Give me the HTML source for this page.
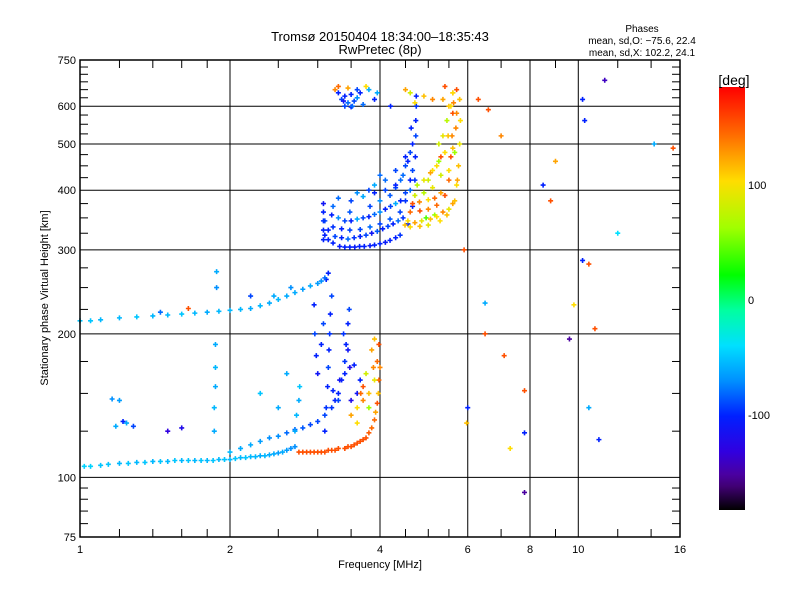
<!DOCTYPE html>
<html><head><meta charset="utf-8"><style>
body{margin:0;background:#fff;}
svg text{font-family:"Liberation Sans",sans-serif;fill:#000;}
</style></head><body>
<svg id="chart" width="800" height="600" viewBox="0 0 800 600">
<defs><linearGradient id="cbgrad" x1="0" y1="1" x2="0" y2="0"></linearGradient></defs>
<rect width="800" height="600" fill="#fff"/>
<g id="grid"></g>
<g id="marks"></g>
<g id="axes"></g>
<text x="380" y="41" font-size="13" text-anchor="middle">Tromsø 20150404 18:34:00–18:35:43</text>
<text x="380" y="54" font-size="13" text-anchor="middle">RwPretec (8p)</text>
<text x="642" y="32" font-size="10" text-anchor="middle">Phases</text>
<text x="642" y="44" font-size="10" text-anchor="middle">mean, sd,O: −75.6, 22.4</text>
<text x="642" y="56" font-size="10" text-anchor="middle">mean, sd,X: 102.2, 24.1</text>
<text x="380" y="568" font-size="11" text-anchor="middle">Frequency [MHz]</text>
<text transform="translate(48,298) rotate(-90)" font-size="11" text-anchor="middle">Stationary phase Virtual Height [km]</text>
<g id="cbar"></g>
<text x="734" y="85" font-size="14" text-anchor="middle">[deg]</text>
</svg>
<script>
// ---- data: each trace = frequency (MHz), virtual height (km), phase (deg)
const eFlatFreq=[1.02,1.05,1.1,1.14,1.2,1.25,1.3,1.35,1.4,1.45,1.5,1.55,1.6,1.65,1.7,1.75,1.8,1.85,1.9,1.95,2.0,2.05,2.1,2.15,2.2,2.25,2.3,2.35,2.4,2.45,2.5,2.55,2.6,2.65,2.7];
const eFlatHeight=[105.5,105.5,106,106.5,107,107,107.5,107.5,108,108,108,108.5,108.5,108.5,108.5,108.5,108.5,108.5,109,109,109,109.5,110,110,110.5,110.5,111,111,111.5,112,112.5,113,114,115,116];
const eFlatPhase=[-45,-45,-50,-50,-55,-50,-55,-50,-55,-50,-55,-50,-55,-50,-55,-50,-55,-50,-55,-50,-55,-50,-55,-50,-55,-55,-60,-55,-60,-60,-65,-60,-65,-70,-70];
const xLowFreq=[2.75,2.8,2.85,2.9,2.95,3.0,3.05,3.1,3.15,3.2,3.25,3.3,3.4,3.45,3.5,3.55,3.6,3.65,3.7,3.75,3.8,3.85,3.9,3.92,3.95,3.97,3.98,4.0];
const xLowHeight=[113,113,113,113,113,113,113,113,114,114,114,115,115,116,116,117,118,119,120,121,124,127,132,137,143,150,160,170];
const xLowPhase=[150,150,150,150,150,150,150,150,150,150,150,150,150,150,150,150,150,150,150,150,145,140,140,120,150,110,140,130];
const oRiseFreq=[2.0,2.1,2.2,2.3,2.4,2.5,2.6,2.7,2.8,2.9,3.0,3.1,3.2,3.25,3.3,3.35,3.4,3.42,3.45,3.47];
const oRiseHeight=[113,115,117,119,121,122,124,126,127,129,131,135,140,145,150,160,175,190,210,225];
const oRisePhase=[-55,-60,-60,-65,-70,-70,-80,-80,-85,-90,-90,-90,-95,-100,-100,-100,-95,-100,-100,-90];
const oVertFreq=[3.1,3.12,3.14,3.15,3.16,3.17,3.18,3.2,3.0,2.98,2.96,2.95,3.22,3.32,3.4,3.48,3.55,3.3,3.45,3.05,3.08,3.12,3.6,3.65,3.5,3.38];
const oVertHeight=[125,140,155,170,185,200,220,240,165,180,200,230,152,160,165,170,172,145,185,190,210,260,150,160,145,200];
const oVertPhase=[-100,-95,-100,-90,-100,-95,-100,-90,-110,-100,-90,-100,-100,-110,-100,-120,-100,-90,-110,-100,-90,-100,-110,-100,-120,-95];
const spurFreq=[2.7,2.72,2.75,2.76,1.86,1.86,1.87,1.87,1.87,1.88,1.88,1.16,1.2,1.24,1.28,1.18,1.22,1.5,1.6,2.3,2.5,2.6];
const spurHeight=[125,135,145,155,125,140,155,170,190,250,270,146,145,130,128,128,131,125,127,150,140,165];
const spurPhase=[-60,-55,-60,-50,-60,-55,-60,-55,-60,-70,-60,-70,-65,-60,-90,-60,-100,-130,-120,-50,-60,-60];
const yelLowFreq=[3.5,3.6,3.7,3.8,3.9,3.95,3.6,3.7,3.85,3.75,3.9,3.98,3.8,3.88,3.66];
const yelLowHeight=[135,140,145,150,160,175,130,155,185,165,195,190,140,170,150];
const yelLowPhase=[120,100,130,110,90,140,100,150,120,80,110,150,60,130,140];
const fLayerFreq=[1.0,1.05,1.1,1.2,1.3,1.4,1.5,1.6,1.7,1.8,1.9,2.0,2.1,2.2,2.3,2.4,2.5,2.6,2.7,2.8,2.9,3.0,3.05,3.1,3.15,1.45,1.65,2.45,2.65,2.2];
const fLayerHeight=[213,213,214,216,217,218,219,220,221,222,223,224,225,226,229,232,236,240,244,248,252,255,258,262,268,222,226,240,250,240];
const fLayerPhase=[-50,-50,-55,-55,-50,-55,-55,-50,-55,-60,-55,-55,-55,-60,-55,-60,-55,-60,-60,-65,-60,-65,-70,-80,-100,-80,150,-60,-70,-90];
const xBand1Freq=[3.1,3.22,3.32,3.48,3.64,3.82,4.0,4.19,4.39,4.55,4.65,4.7,4.71,4.72,4.72,4.73,4.73,3.15,3.4,3.56,3.72,3.9,4.1,4.3];
const xBand1Height=[322,310,305,304,305,306,309,314,322,340,370,420,470,520,560,600,630,315,304,304,305,307,311,318];
const xBand1Phase=[-100,-100,-105,-100,-100,-105,-100,-100,-95,-100,-100,-95,-100,-90,-100,-95,-100,-100,-100,-105,-100,-100,-105,-100];
const xBand2Freq=[3.1,3.22,3.48,3.82,4.0,4.19,4.39,4.5,4.6,4.65,3.35,3.65,3.22,3.48,3.82,4.0,4.19,4.3,4.4,4.5,3.08,3.08,3.08,3.08,3.08];
const xBand2Height=[345,335,330,335,340,348,360,380,400,440,332,331,370,360,370,380,390,405,420,450,315,330,345,360,375];
const xBand2Phase=[-90,-95,-90,-80,-90,-85,-90,-95,-80,-90,-100,-90,-80,-85,-90,-70,-85,-90,-80,-90,-100,-100,-95,-100,-110];
const xFillFreq=[3.15,3.25,3.35,3.45,3.55,3.65,3.75,3.85,3.95,4.05,4.15,4.25,4.35,4.45,3.2,3.3,3.4,3.5,3.6,3.7,3.8,3.9,4.0,4.1,4.2,4.3,4.4,4.5,4.6,3.3,3.5,3.7,3.9,4.1,4.3,4.45,4.55,4.6,4.65,3.9,4.1,4.3,4.5,4.62,3.6,3.8,4.0];
const xFillHeight=[330,320,318,316,318,320,322,325,328,332,336,340,345,350,355,350,345,345,348,350,352,356,360,365,370,375,380,395,420,385,380,388,395,400,410,430,460,480,500,410,420,440,470,540,395,400,430];
const xFillPhase=[-100,-90,-100,-80,-95,-100,-90,-110,-85,-100,-90,-100,-80,-95,-100,-70,-90,-100,-60,-90,-100,-80,-70,-100,-90,-60,-100,-90,-100,-80,-90,-60,-100,-90,-100,-80,-100,-90,-100,-60,-80,-90,-100,-100,-70,-90,-80];
const oUpFreq=[4.49,4.6,4.81,5.0,5.28,5.45,5.6,5.7,5.75,5.78,5.8,5.78,5.7,4.6,4.81,5.0,5.2,5.4,5.5,5.55,5.58,5.6,5.6,4.7,4.9,5.1,5.3,5.4,5.45,4.95,5.15];
const oUpHeight=[338,335,336,338,345,355,375,410,450,500,560,620,650,360,362,365,372,390,420,470,520,580,640,390,395,405,430,480,560,350,355];
const oUpPhase=[110,100,110,90,100,110,120,100,110,90,100,110,150,140,150,130,140,150,140,150,130,150,140,80,70,90,80,100,70,40,60];
const oFillFreq=[4.55,4.7,4.85,5.05,5.2,5.35,5.5,5.65,5.72,4.65,4.8,5.0,5.15,5.3,5.5,5.6,5.68,5.0,5.1,5.25,5.35,5.5,5.62,4.75,4.9,5.05,5.2,5.3,5.48,5.55,5.65,5.7,5.25,5.35];
const oFillHeight=[345,342,345,348,352,360,365,380,420,375,378,382,385,395,440,490,540,420,440,460,520,600,610,410,420,435,450,470,520,600,480,580,500,620];
const oFillPhase=[100,120,90,110,100,130,90,110,120,150,130,100,140,120,100,110,130,80,100,60,90,110,130,70,90,120,100,150,110,100,60,130,80,120];
const topFreq=[3.3,3.35,3.4,3.45,3.5,3.55,3.6,3.65,3.4,3.5,3.7,3.95,3.9,4.2,4.5,4.7,5.4,5.6,3.8,3.3,3.45,3.6,3.38,3.52,4.6,4.9,5.1,3.25,3.75];
const topHeight=[640,620,630,610,635,615,625,640,600,598,605,640,620,600,650,610,660,640,650,660,655,650,615,600,640,630,620,650,660];
const topPhase=[-100,-90,-100,-80,-100,-90,-70,-100,-90,-100,-80,-60,-100,-100,120,100,150,100,-60,140,120,-90,-110,-80,80,110,130,130,100];
const strayFreq=[5.9,6.3,6.5,6.5,6.6,7.0,7.1,7.3,7.8,7.8,7.8,8.5,9.0,8.8,9.6,10.2,10.5,10.8,10.5,11.0,10.3,10.2,12.0,14.2,15.5,11.3,6.0,5.97,9.8];
const strayHeight=[300,620,232,200,590,520,180,115,152,124,93,410,460,380,195,285,280,205,140,120,560,620,325,500,490,680,140,130,230];
const strayPhase=[150,150,-60,150,150,130,150,100,150,-100,-150,-100,120,150,-150,-100,150,150,-60,-100,-100,-100,-40,-60,150,-140,-100,110,100];
const colorbarTicks=[100,0,-100];
const yTickLabels=[75,100,200,300,400,500,600,750];
const xTickLabels=[1,2,4,6,8,10,16];

// ---- scales
const X0=80,X1=680,Y0=537,Y1=60;
const xs=f=>X0+(X1-X0)*Math.log(f)/Math.log(16);
const ys=h=>Y0-(Y0-Y1)*Math.log10(h/75);
const cbTop=87,cbBot=510,cbY=p=>300-1.15*p;
const stops=[[-180,[0,0,0]],[-155,[80,0,144]],[-130,[48,0,224]],[-100,[0,32,255]],[-70,[0,144,255]],[-40,[0,224,255]],[-10,[0,255,160]],[20,[0,255,0]],[60,[160,255,0]],[100,[255,221,0]],[140,[255,106,0]],[180,[255,0,0]]];
function col(p){p=Math.max(-180,Math.min(180,p));for(let i=1;i<stops.length;i++){if(p<=stops[i][0]){const a=stops[i-1],b=stops[i],t=(p-a[0])/(b[0]-a[0]);const c=a[1].map((v,k)=>Math.round(v+(b[1][k]-v)*t));return `rgb(${c})`;}}return 'rgb(255,0,0)';}
const NS='http://www.w3.org/2000/svg';
function mk(tag,attrs,parent){const e=document.createElementNS(NS,tag);for(const k in attrs)e.setAttribute(k,attrs[k]);parent.appendChild(e);return e;}

// ---- grid
const grid=document.getElementById('grid');
[100,200,300,400,500,600].forEach(h=>{const l=mk('line',{x1:X0,x2:X1,y1:ys(h),y2:ys(h),stroke:'#000','stroke-width':1},grid);

});
[2,4,6,8,10].forEach(f=>{const l=mk('line',{x1:xs(f),x2:xs(f),y1:Y1,y2:Y0,stroke:'#000','stroke-width':1},grid);

});

// ---- marks
const marks=document.getElementById('marks');
const traces=[[eFlatFreq,eFlatHeight,eFlatPhase],[xLowFreq,xLowHeight,xLowPhase],[oRiseFreq,oRiseHeight,oRisePhase],[oVertFreq,oVertHeight,oVertPhase],[spurFreq,spurHeight,spurPhase],[yelLowFreq,yelLowHeight,yelLowPhase],[fLayerFreq,fLayerHeight,fLayerPhase],[xBand1Freq,xBand1Height,xBand1Phase],[xBand2Freq,xBand2Height,xBand2Phase],[xFillFreq,xFillHeight,xFillPhase],[oUpFreq,oUpHeight,oUpPhase],[oFillFreq,oFillHeight,oFillPhase],[topFreq,topHeight,topPhase],[strayFreq,strayHeight,strayPhase]];
traces.forEach(([F,H,P])=>{F.forEach((f,i)=>{const x=xs(f),y=ys(H[i]);
const m=mk('path',{d:`M${x-2.5} ${y}h5M${x} ${y-2.5}v5`,stroke:col(P[i]),'stroke-width':1.6,fill:'none'},marks);

});});

// ---- axes
const axes=document.getElementById('axes');
const frame=mk('rect',{x:X0,y:Y1,width:X1-X0,height:Y0-Y1,fill:'none',stroke:'#000','stroke-width':1.5},axes);


const yMinor=[80,85,90,95,125,150,175,225,250,275,325,350,375,425,450,475,525,550,575,625,650,675,700,725];
yMinor.forEach(h=>{mk('line',{x1:X0,x2:X0+8,y1:ys(h),y2:ys(h),stroke:'#000'},axes);mk('line',{x1:X1,x2:X1-8,y1:ys(h),y2:ys(h),stroke:'#000'},axes);});
const xMinor=[1.2,1.4,1.6,1.8,2.5,3,3.5,4.5,5,5.5,7,9,12,14];
xMinor.forEach(f=>{mk('line',{x1:xs(f),x2:xs(f),y1:Y0,y2:Y0-8,stroke:'#000'},axes);mk('line',{x1:xs(f),x2:xs(f),y1:Y1,y2:Y1+8,stroke:'#000'},axes);});
yTickLabels.forEach(h=>{const t=mk('text',{x:X0-4,y:ys(h)+4,'font-size':11,'text-anchor':'end'},axes);t.textContent=h;

});
xTickLabels.forEach(f=>{const t=mk('text',{x:xs(f),y:Y0+16,'font-size':11,'text-anchor':'middle'},axes);t.textContent=f;

});

// ---- colorbar
const g=document.getElementById('cbgrad');
for(let p=-180;p<=180;p+=10){mk('stop',{offset:((p+180)/360),'stop-color':col(p)},g);}
const cb=document.getElementById('cbar');
const r=mk('rect',{x:719,y:cbTop,width:26,height:cbBot-cbTop,fill:'url(#cbgrad)'},cb);


colorbarTicks.forEach(p=>{const t=mk('text',{x:748,y:cbY(p)+4,'font-size':11},cb);t.textContent=p;

});
</script>
</body></html>
